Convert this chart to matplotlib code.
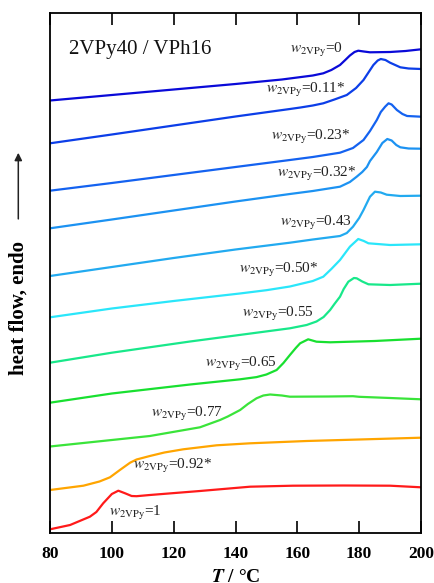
import matplotlib
matplotlib.use('Agg')
import matplotlib.pyplot as plt

plt.rcParams['font.family'] = 'serif'
plt.rcParams['font.serif'] = ['Liberation Serif', 'DejaVu Serif']
plt.rcParams['mathtext.fontset'] = 'stix'

# DSC traces: temperature (°C) and heat flow (arb. units, endo up)
T_0 = [80, 100, 120, 140, 155, 160, 165, 168.4, 171, 173.8, 175.5, 177, 178.5, 179.7, 181.5, 183.5, 190, 195, 200]
H_0 = [432.5, 438, 443.5, 449, 453.5, 455.5, 457.5, 459.7, 463, 468, 473, 477.5, 481, 482.3, 481.5, 480.7, 481, 482, 483.7]

T_011 = [80, 100, 120, 140, 157.6, 161, 165, 168.4, 172, 176, 179, 181.4, 183, 184.6, 186, 187, 188.5, 190, 193.3, 196, 200]
H_011 = [389.7, 398.5, 407.5, 416.5, 424, 425.5, 427.5, 429.7, 433.5, 438, 445, 453, 460.5, 468, 472.5, 474, 473, 470.3, 465.7, 464.5, 464]

T_023 = [80, 100, 120, 140, 157.6, 165, 173.8, 178, 181.4, 183.5, 185.7, 187, 188.4, 189.5, 190.5, 192.2, 194, 195.5, 200]
H_023 = [342.3, 350, 358, 366, 373, 376, 380.3, 385, 393, 402, 413, 421, 426.3, 429.7, 428.5, 423, 419, 417, 416.3]

T_032 = [80, 100, 120, 140, 157.6, 165, 173.8, 177, 179.2, 181, 182.5, 183.5, 185.7, 187.5, 189.1, 190.5, 192, 193.3, 196, 200]
H_032 = [304.7, 313.5, 322.5, 331.5, 339, 342, 346.3, 351, 356.3, 361, 366, 372, 381, 390, 394, 392.5, 388, 385.7, 384.5, 384.3]

T_043 = [80, 100, 120, 140, 157.6, 165, 173.8, 176, 178, 180, 181.4, 182.5, 183.5, 185.1, 187, 188.9, 193.3, 200]
H_043 = [257, 266, 275, 283.5, 290.3, 293.5, 297, 300, 306.3, 315, 323, 330, 336.3, 341.3, 340.5, 338.3, 337, 337.3]

T_050 = [80, 100, 120, 141.4, 150, 157.6, 165, 168.4, 171, 173.8, 177, 179.7, 181.5, 183, 190, 200]
H_050 = [215.7, 224.5, 232, 239.5, 242.8, 246.5, 252, 256.3, 264, 273, 286.3, 294, 292, 289.7, 288, 288.7]

T_055 = [80, 100, 125.3, 140, 157.6, 163, 166.2, 168.5, 170.6, 172, 173.8, 175, 176.5, 178.3, 179.2, 181, 183, 190, 200]
H_055 = [170.3, 180.3, 191.5, 197.5, 204.7, 208, 211.5, 216, 223, 229, 236.3, 244, 251.3, 255, 254.7, 251.5, 248.7, 248, 249.3]

T_065 = [80, 100, 125.3, 141.5, 146.8, 150, 153.3, 155.5, 157.6, 159.5, 160.9, 163.5, 166.2, 170.6, 185, 200]
H_065 = [130.3, 139.5, 148.5, 153.7, 155.9, 158.5, 163, 170, 178, 185, 189.7, 193.7, 191.3, 190.7, 192, 194.3]

T_077 = [80, 112.3, 128.5, 135, 137.5, 141.5, 144, 146.8, 149, 151.2, 155, 157.6, 170, 178, 180, 190, 200]
H_077 = [86.5, 97, 105.7, 113, 116.5, 123, 129, 134.7, 137.5, 138.5, 137.5, 136.3, 136.5, 136.8, 136.2, 135, 133.7]

T_092 = [80, 90.8, 96, 99.4, 102.6, 105.9, 108, 112.3, 117, 123.1, 133.9, 144.7, 163, 180, 200]
H_092 = [43, 47.3, 51.5, 55.7, 63, 70.3, 73.5, 77, 80.5, 83.7, 87.7, 89.7, 92, 93.5, 95.3]

T_1 = [80, 86.5, 92.9, 95, 97.2, 100, 102.1, 104.3, 106.4, 108, 112.3, 128.5, 144.7, 158.6, 175, 190, 200]
H_1 = [3.7, 8, 16.3, 21, 29.7, 39, 42.3, 39.7, 37, 36.8, 38, 42, 46.3, 47.3, 47.5, 47.3, 45.7]

labels = ['0', '0.11*', '0.23*', '0.32*', '0.43', '0.50*', '0.55', '0.65', '0.77', '0.92*', '1']
temps = [T_0, T_011, T_023, T_032, T_043, T_050, T_055, T_065, T_077, T_092, T_1]
flows = [H_0, H_011, H_023, H_032, H_043, H_050, H_055, H_065, H_077, H_092, H_1]
colors = ['#0a0ad8', '#0c3ee8', '#1462f0', '#1c92f2', '#22aaf0', '#2ae6fa',
          '#18e88a', '#18e030', '#3ae43a', '#ffa500', '#ff1a1a']
# label anchor (right end, baseline) in data coordinates
label_pos = [(174.7, 480), (175.7, 439.7), (177.0, 393), (179.2, 356.3), (177.6, 307),
             (166.7, 259.7), (165.4, 215.7), (153.5, 166.3), (135.9, 116.3),
             (132.6, 63.7), (116.1, 17)]

fig = plt.figure(figsize=(4.34, 5.83), dpi=100)
ax = fig.add_axes([50 / 434, 1 - 533 / 583, 371 / 434, 520 / 583])

for T, H, c in zip(temps, flows, colors):
    ax.plot(T, H, color=c, lw=1.6, solid_joinstyle='round')

for lab, (x, y) in zip(labels, label_pos):
    ax.text(x, y, r'$w_{\mathrm{2VPy}}$=' + lab, ha='right', va='baseline',
            fontsize=11, color='#222222')

ax.text(0.051, 0.9206, '2VPy40 / VPh16', transform=ax.transAxes,
        fontsize=15, va='baseline', ha='left', color='#111111')

ax.set_xlim(80, 200)
ax.set_ylim(0, 520)
ax.set_xticks([80, 100, 120, 140, 160, 180, 200])
ax.set_yticks([])
ax.tick_params(axis='x', direction='in', length=8.5, width=1.2, top=True,
               pad=9, labelsize=12.5)
for lbl in ax.get_xticklabels():
    lbl.set_fontweight('bold')
for s in ax.spines.values():
    s.set_linewidth(1.3)

fig.text(236 / 434, 1 - 569 / 583, r'$\boldsymbol{T}$ / °C', ha='center', va='top',
         fontsize=14, fontweight='bold')
fig.text(18.5 / 434, 1 - 308 / 583, 'heat flow, endo', rotation=90, ha='center',
         va='center', fontsize=15, fontweight='bold')
fig.patches.append(matplotlib.patches.FancyArrowPatch(
    (18.3 / 434, 1 - 221.7 / 583), (18.3 / 434, 1 - 150 / 583),
    transform=fig.transFigure, arrowstyle='-|>', mutation_scale=11,
    lw=1.1, color='#222222'))

fig.savefig('out.png', dpi=100)
